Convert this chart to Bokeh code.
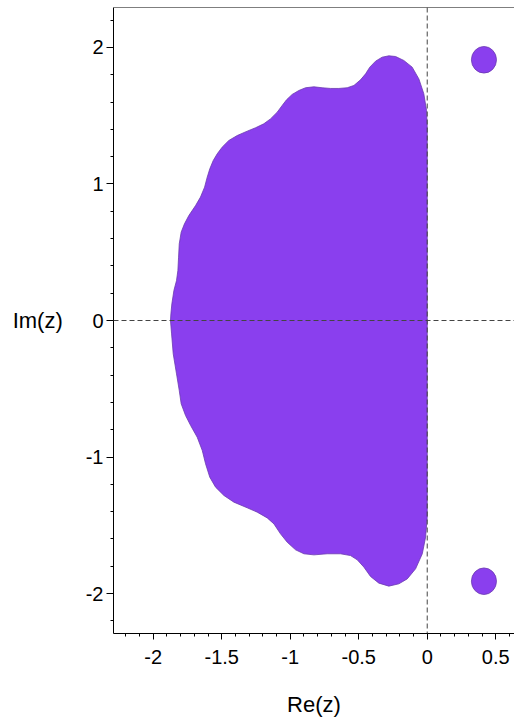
from bokeh.plotting import figure
from bokeh.embed import file_html
from bokeh.resources import INLINE
from bokeh.models import Span, SingleIntervalTicker, CustomJSTickFormatter, Range1d

upper_re = [0.0, -0.005, -0.025, -0.061, -0.110, -0.171, -0.231, -0.280, -0.329, -0.377,
            -0.419, -0.450, -0.487, -0.535, -0.584, -0.645, -0.706, -0.767, -0.827, -0.888,
            -0.937, -0.986, -1.027, -1.059, -1.095, -1.144, -1.193, -1.253, -1.314, -1.387,
            -1.448, -1.497, -1.533, -1.562, -1.587, -1.606, -1.625, -1.655, -1.691, -1.740,
            -1.772, -1.796, -1.810, -1.815, -1.820, -1.830, -1.849, -1.864, -1.871, -1.874]
upper_im = [1.416, 1.538, 1.661, 1.770, 1.856, 1.905, 1.934, 1.939, 1.929, 1.900,
            1.856, 1.807, 1.763, 1.722, 1.705, 1.700, 1.700, 1.705, 1.712, 1.705,
            1.685, 1.656, 1.617, 1.575, 1.526, 1.477, 1.441, 1.412, 1.387, 1.355,
            1.319, 1.270, 1.221, 1.172, 1.111, 1.050, 0.977, 0.904, 0.842, 0.769,
            0.708, 0.647, 0.562, 0.464, 0.366, 0.293, 0.220, 0.122, 0.049, 0.0]
# lower half, from the real axis back to the bottom of the x=0 edge
lower_re = [-1.866, -1.854, -1.830, -1.810, -1.796, -1.764, -1.727, -1.679, -1.642, -1.618,
            -1.587, -1.545, -1.484, -1.411, -1.314, -1.241, -1.168, -1.119, -1.071, -1.022,
            -0.961, -0.900, -0.827, -0.730, -0.633, -0.560, -0.511, -0.462, -0.414, -0.353,
            -0.280, -0.207, -0.146, -0.085, -0.036, -0.012, 0.0]
lower_im = [-0.098, -0.244, -0.391, -0.513, -0.610, -0.696, -0.769, -0.855, -0.952, -1.050,
            -1.148, -1.221, -1.282, -1.331, -1.372, -1.404, -1.446, -1.490, -1.563, -1.624,
            -1.680, -1.709, -1.717, -1.709, -1.709, -1.722, -1.753, -1.807, -1.875, -1.924,
            -1.946, -1.929, -1.893, -1.819, -1.709, -1.587, -1.441]

# The two small islands
blob_re = [0.414, 0.414]
blob_im = [1.91, -1.91]
blob_w = [0.183, 0.183]
blob_h = [0.195, 0.195]

x_lo, x_hi = -2.29, 0.637
y_lo, y_hi = -2.293, 2.293

fill = "#8A3FEE"
edge = "#6B3AB0"

p = figure(width=514, height=719, output_backend="svg", toolbar_location=None,
           x_range=Range1d(x_lo, x_hi), y_range=Range1d(y_lo, y_hi),
           min_border_left=113, min_border_right=0, min_border_top=7, min_border_bottom=86)
p.outline_line_color = None
p.grid.visible = False
p.background_fill_color = "white"
p.border_fill_color = "white"

p.patch(upper_re + lower_re, upper_im + lower_im, fill_color=fill, line_color=edge, line_width=0.8)
p.ellipse(x=blob_re, y=blob_im, width=blob_w, height=blob_h,
          fill_color=fill, line_color=edge, line_width=0.8)

p.add_layout(Span(location=0, dimension="width", line_color="#444444", line_dash="5 3", line_width=1))
p.add_layout(Span(location=0, dimension="height", line_color="#444444", line_dash="5 3", line_width=1))
p.add_layout(Span(location=y_hi, dimension="width", line_color="black", line_width=1.2))

fmt = CustomJSTickFormatter(code="return tick.toString();")

xa = p.xaxis[0]
xa.ticker = SingleIntervalTicker(interval=0.5, num_minor_ticks=5)
xa.formatter = fmt
xa.axis_label = "Re(z)"
ya = p.yaxis[0]
ya.ticker = SingleIntervalTicker(interval=1, num_minor_ticks=5)
ya.formatter = fmt
ya.axis_label = "Im(z)"
ya.axis_label_orientation = "horizontal"

for ax in (xa, ya):
    ax.axis_line_color = "black"
    ax.major_tick_line_color = "black"
    ax.minor_tick_line_color = "black"
    ax.major_tick_in = 0
    ax.minor_tick_in = 0
    ax.minor_tick_out = 3
    ax.major_label_text_font = "Liberation Sans"
    ax.major_label_text_font_size = "20px"
    ax.major_label_text_color = "black"
    ax.axis_label_text_font = "Liberation Sans"
    ax.axis_label_text_font_size = "22px"
    ax.axis_label_text_font_style = "normal"
    ax.axis_label_text_color = "black"

xa.major_tick_out = 6
xa.major_label_standoff = 10
xa.axis_label_standoff = 25
ya.major_tick_out = 7
ya.major_label_standoff = 3
ya.axis_label_standoff = 20

open("out.html", "w").write(file_html(p, INLINE))
